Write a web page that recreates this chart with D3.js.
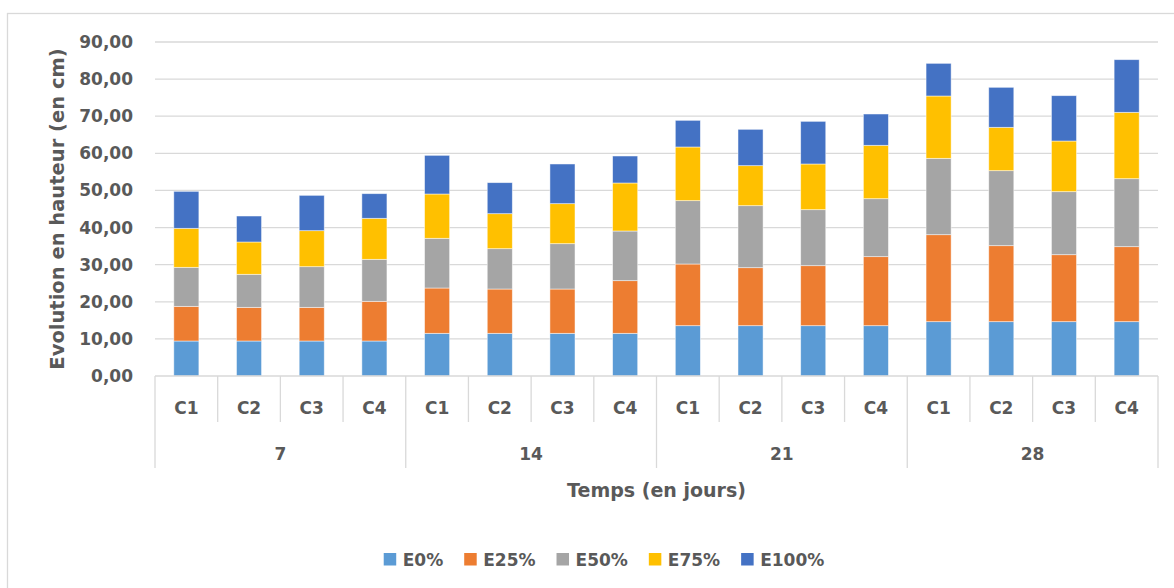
<!DOCTYPE html>
<html>
<head>
<meta charset="utf-8">
<script src="https://cdn.jsdelivr.net/npm/d3@7"></script>
<style>
  body { margin: 0; background: #fff; }
  text { font-family: "DejaVu Sans", sans-serif; font-weight: bold; fill: #595959; }
</style>
</head>
<body>
<div id="chart-container"></div>
<script>
// categories: days (outer level) and conditions (inner level)
const days = ["7", "14", "21", "28"];
const conds = ["C1", "C2", "C3", "C4"];
const seriesNames = ["E0%", "E25%", "E50%", "E75%", "E100%"];
const yTicks = [0, 10, 20, 30, 40, 50, 60, 70, 80, 90];

// series values, one per (day, condition)
const e0 = [9.43, 9.43, 9.43, 9.43, 11.5, 11.5, 11.5, 11.5, 13.56, 13.56, 13.56, 13.56, 14.64, 14.64, 14.64, 14.64];
const e25 = [9.34, 9.07, 9.07, 10.69, 12.21, 11.94, 11.94, 14.19, 16.62, 15.63, 16.17, 18.6, 23.44, 20.48, 18.05, 20.21];
const e50 = [10.51, 8.9, 10.96, 11.32, 13.39, 10.87, 12.22, 13.38, 17.07, 16.71, 15.09, 15.62, 20.57, 20.21, 16.98, 18.32];
const e75 = [10.51, 8.71, 9.7, 11.05, 11.94, 9.43, 10.78, 12.94, 14.46, 10.78, 12.31, 14.38, 16.8, 11.68, 13.65, 17.88];
const e100 = [9.97, 7.0, 9.52, 6.64, 10.42, 8.36, 10.69, 7.27, 7.18, 9.79, 11.49, 8.44, 8.8, 10.78, 12.22, 14.19];

const colors = ["#5B9BD5", "#ED7D31", "#A5A5A5", "#FFC000", "#4472C4"];

const W = 1174, H = 588;
const plot = { left: 155, right: 1158, top: 42, bottom: 376 };

// build rows for d3.stack
const keys = [];
days.forEach(d => conds.forEach(c => keys.push(d + "|" + c)));
const allSeries = [e0, e25, e50, e75, e100];
const rows = keys.map((k, i) => {
    const r = { key: k };
    seriesNames.forEach((s, j) => { r[s] = allSeries[j][i]; });
    return r;
});

const svg = d3.select("#chart-container")
    .append("svg")
    .attr("width", W)
    .attr("height", H);

// chart frame (only top/left visible in the reference)
svg.append("rect")
    .attr("x", 7.5).attr("y", 13.5)
    .attr("width", W + 20).attr("height", H + 20)
    .attr("fill", "none")
    .attr("stroke", "#d9d9d9")
    .attr("stroke-width", 1.3);

const x = d3.scaleBand()
    .domain(keys)
    .range([plot.left, plot.right])
    .paddingInner(0.6)
    .paddingOuter(0.3);

const y = d3.scaleLinear()
    .domain([0, 90])
    .range([plot.bottom, plot.top]);

// horizontal gridlines
svg.append("g")
    .selectAll("line")
    .data(yTicks.slice(1))
    .join("line")
    .attr("x1", plot.left)
    .attr("x2", plot.right)
    .attr("y1", d => y(d))
    .attr("y2", d => y(d))
    .attr("stroke", "#d9d9d9")
    .attr("stroke-width", 1.3);

// y axis labels
svg.append("g")
    .attr("transform", `translate(${plot.left},0)`)
    .style("font-size", "17px")
    .call(d3.axisLeft(y)
        .tickValues(yTicks)
        .tickFormat(d => d3.format(".2f")(d).replace(".", ","))
        .tickSize(0)
        .tickPadding(22))
    .call(g => g.select(".domain").remove())
    .selectAll("text")
    .style("font-family", "DejaVu Sans, sans-serif")
    .style("font-weight", "bold")
    .attr("fill", "#595959");

// y axis title
svg.append("text")
    .attr("transform", `translate(64,${(plot.top + plot.bottom) / 2}) rotate(-90)`)
    .attr("text-anchor", "middle")
    .style("font-size", "19.5px")
    .text("Evolution en hauteur (en cm)");

// stacked bars
const stacked = d3.stack().keys(seriesNames)(rows);

svg.append("g")
    .selectAll("g")
    .data(stacked)
    .join("g")
    .attr("fill", (d, i) => colors[i])
    .selectAll("rect")
    .data(d => d)
    .join("rect")
    .attr("x", d => x(d.data.key))
    .attr("width", x.bandwidth())
    .attr("y", d => y(d[1]))
    .attr("height", d => y(d[0]) - y(d[1]))
    .attr("stroke", "#ffffff")
    .attr("stroke-opacity", 0.6)
    .attr("stroke-width", 0.8);

// category axis: baseline, separators and two rows of labels
const axisColor = "#d9d9d9";
const step = x.step();
const innerBottom = 422, outerBottom = 468;

svg.append("line")
    .attr("x1", plot.left).attr("x2", plot.right)
    .attr("y1", plot.bottom).attr("y2", plot.bottom)
    .attr("stroke", axisColor).attr("stroke-width", 1.3);

const bounds = d3.range(keys.length + 1);
svg.append("g")
    .selectAll("line")
    .data(bounds)
    .join("line")
    .attr("x1", i => plot.left + i * step)
    .attr("x2", i => plot.left + i * step)
    .attr("y1", plot.bottom)
    .attr("y2", i => (i % conds.length === 0) ? outerBottom : innerBottom)
    .attr("stroke", axisColor)
    .attr("stroke-width", 1.3);

svg.append("g")
    .selectAll("text")
    .data(keys)
    .join("text")
    .attr("x", k => x(k) + x.bandwidth() / 2)
    .attr("y", 414)
    .attr("text-anchor", "middle")
    .style("font-size", "17px")
    .text(k => k.split("|")[1]);

svg.append("g")
    .selectAll("text")
    .data(days)
    .join("text")
    .attr("x", (d, i) => plot.left + (i * conds.length + conds.length / 2) * step)
    .attr("y", 460)
    .attr("text-anchor", "middle")
    .style("font-size", "17px")
    .text(d => d);

// x axis title
svg.append("text")
    .attr("x", (plot.left + plot.right) / 2)
    .attr("y", 497)
    .attr("text-anchor", "middle")
    .style("font-size", "19px")
    .text("Temps (en jours)");

// legend
const legend = svg.append("g");
let lx = 0;
seriesNames.forEach((s, i) => {
    const item = legend.append("g").attr("transform", `translate(${lx},0)`);
    item.append("rect")
        .attr("x", 0).attr("y", -12)
        .attr("width", 12.5).attr("height", 12.5)
        .attr("fill", colors[i]);
    const t = item.append("text")
        .attr("x", 19).attr("y", 0.5)
        .style("font-size", "17px")
        .text(s);
    lx += 19 + t.node().getComputedTextLength() + 21;
});
const legendWidth = lx - 21;
legend.attr("transform", `translate(${604 - legendWidth / 2},565)`);
</script>
</body>
</html>
